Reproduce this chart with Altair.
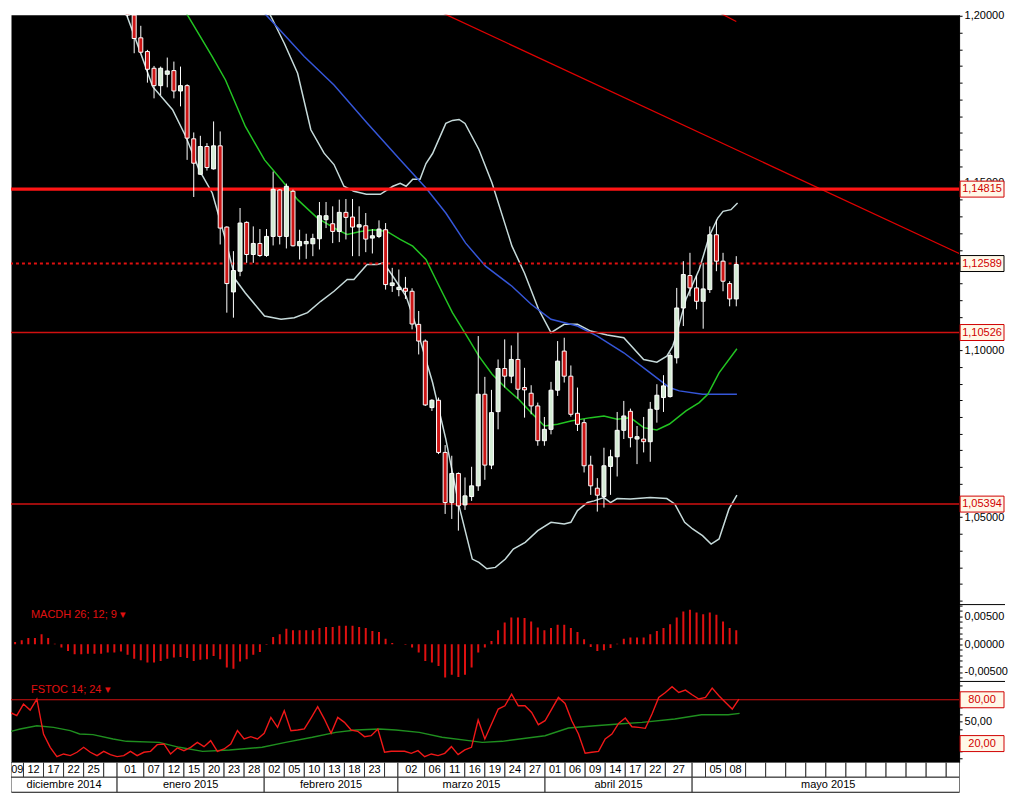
import altair as alt
import pandas as pd

# ---------------- candles (bar index, OHLC) ----------------
candle_bar = list(range(18, 111))
c_open = [1.2045, 1.2002, 1.1934, 1.1893, 1.1843, 1.1791, 1.1825, 1.1836, 1.1775, 1.1791,
          1.1632, 1.1526, 1.1609, 1.1542, 1.1611, 1.1368, 1.1174, 1.1236, 1.1382, 1.1286,
          1.1319, 1.1283, 1.1340, 1.1479, 1.1340, 1.1475, 1.1312, 1.1318, 1.1318, 1.1333,
          1.1390, 1.1378, 1.1355, 1.1412, 1.1398, 1.1368, 1.1372, 1.1335, 1.1340, 1.1360,
          1.1193, 1.1181, 1.1185, 1.1176, 1.1077, 1.1027, 1.0828, 1.0850, 1.0694, 1.0544,
          1.0631, 1.0537, 1.0562, 1.0594, 1.0868, 1.0656, 1.0816, 1.0945, 1.0922, 1.0972,
          1.0888, 1.0871, 1.0833, 1.0729, 1.0763, 1.0880, 1.0997, 1.0922, 1.0811, 1.0783,
          1.0656, 1.0587, 1.0562, 1.0652, 1.0681, 1.0760, 1.0817, 1.0734, 1.0734, 1.0726,
          1.0823, 1.0858, 1.0861, 1.0977, 1.1126, 1.1223, 1.1186, 1.1146, 1.1181, 1.1345,
          1.1266, 1.1199, 1.1153]
c_high = [1.2060, 1.2012, 1.1970, 1.1898, 1.1850, 1.1848, 1.1875, 1.1863, 1.1848, 1.1795,
          1.1651, 1.1641, 1.1619, 1.1684, 1.1654, 1.1370, 1.1296, 1.1425, 1.1385, 1.1370,
          1.1362, 1.1362, 1.1534, 1.1481, 1.1498, 1.1480, 1.1360, 1.1348, 1.1348, 1.1443,
          1.1443, 1.1430, 1.1450, 1.1452, 1.1452, 1.1430, 1.1410, 1.1362, 1.1388, 1.1380,
          1.1246, 1.1241, 1.1219, 1.1185, 1.1117, 1.1032, 1.0853, 1.0858, 1.0716, 1.0684,
          1.0634, 1.0619, 1.0651, 1.1042, 1.0920, 1.0881, 1.0972, 1.1032, 1.1014, 1.1052,
          1.0947, 1.0895, 1.0843, 1.0800, 1.0905, 1.1027, 1.1037, 1.0954, 1.0888, 1.0793,
          1.0684, 1.0617, 1.0708, 1.0702, 1.0815, 1.0848, 1.0825, 1.0773, 1.0800, 1.0845,
          1.0898, 1.0925, 1.0992, 1.1186, 1.1266, 1.1291, 1.1223, 1.1261, 1.1370, 1.1390,
          1.1291, 1.1206, 1.1281]
c_low = [1.1995, 1.1888, 1.1888, 1.1800, 1.1753, 1.1763, 1.1786, 1.1753, 1.1729, 1.1569,
         1.1458, 1.1525, 1.1537, 1.1540, 1.1316, 1.1112, 1.1097, 1.1221, 1.1261, 1.1261,
         1.1279, 1.1279, 1.1313, 1.1316, 1.1304, 1.1310, 1.1271, 1.1273, 1.1281, 1.1301,
         1.1365, 1.1320, 1.1323, 1.1331, 1.1281, 1.1281, 1.1293, 1.1289, 1.1335, 1.1181,
         1.1174, 1.1161, 1.1153, 1.1062, 1.0987, 1.0833, 1.0818, 1.0689, 1.0510, 1.0495,
         1.0460, 1.0522, 1.0549, 1.0579, 1.0612, 1.0644, 1.0763, 1.0888, 1.0901, 1.0855,
         1.0798, 1.0808, 1.0714, 1.0714, 1.0748, 1.0863, 1.0903, 1.0801, 1.0758, 1.0634,
         1.0567, 1.0517, 1.0529, 1.0567, 1.0622, 1.0734, 1.0709, 1.0659, 1.0694, 1.0666,
         1.0783, 1.0815, 1.0858, 1.0960, 1.1072, 1.1161, 1.1122, 1.1064, 1.1171, 1.1236,
         1.1176, 1.1131, 1.1131]
c_close = [1.2002, 1.1932, 1.1891, 1.1840, 1.1791, 1.1843, 1.1835, 1.1775, 1.1791, 1.1634,
           1.1559, 1.1609, 1.1546, 1.1611, 1.1365, 1.1199, 1.1238, 1.1380, 1.1286, 1.1319,
           1.1283, 1.1340, 1.1481, 1.1340, 1.1490, 1.1312, 1.1325, 1.1325, 1.1334, 1.1402,
           1.1402, 1.1355, 1.1412, 1.1397, 1.1368, 1.1375, 1.1332, 1.1342, 1.1362, 1.1196,
           1.1201, 1.1188, 1.1176, 1.1078, 1.1027, 1.0836, 1.0850, 1.0694, 1.0544, 1.0631,
           1.0534, 1.0564, 1.0594, 1.0868, 1.0656, 1.0813, 1.0945, 1.0922, 1.0972, 1.0883,
           1.0881, 1.0833, 1.0729, 1.0763, 1.0880, 1.0967, 1.0922, 1.0808, 1.0778, 1.0654,
           1.0594, 1.0566, 1.0654, 1.0681, 1.0760, 1.0803, 1.0738, 1.0741, 1.0726, 1.0823,
           1.0865, 1.0893, 1.0984, 1.1126, 1.1226, 1.1186, 1.1146, 1.1183, 1.1345, 1.1266,
           1.1206, 1.1153, 1.1256]

# ---------------- overlays on price ----------------
bb_up_bar = [37.7, 39.7, 41.7, 43.7, 45.7, 47.7, 49.2, 50.7, 52.2, 54.1, 56.2, 58.1, 59.2, 60.1, 61.1,
             62.2, 63.1, 64.1, 66.1, 67.1, 68.1, 69.0, 71.1, 73.1, 76.1, 78.0, 80.1, 82.0, 84.0, 86.0,
             88.0, 90.5, 93.0, 96.0, 98.0, 99.5, 100.4, 100.9, 102.4, 104.4, 105.9, 107.2, 108.0, 109.2, 110.2]
bb_up_val = [1.2072, 1.1997, 1.1917, 1.1828, 1.1659, 1.1589, 1.1555, 1.1490, 1.1475, 1.1466, 1.1466, 1.1490,
             1.1499, 1.1490, 1.1511, 1.1511, 1.1558, 1.1588, 1.1678, 1.1687, 1.1690, 1.1678, 1.1600, 1.1499,
             1.1311, 1.1230, 1.1123, 1.1052, 1.1077, 1.1077, 1.1057, 1.1045, 1.1037, 1.0972, 1.0964, 1.0982,
             1.1012, 1.1042, 1.1152, 1.1241, 1.1340, 1.1395, 1.1415, 1.1420, 1.1440]
bb_lo_bar = [16.8, 17.4, 19.8, 21.8, 24.8, 26.8, 28.8, 30.8, 32.8, 34.3, 35.8, 38.7, 41.2, 43.2, 45.2,
             47.2, 49.2, 51.2, 52.2, 54.2, 55.7, 56.7, 58.1, 60.1, 61.6, 64.1, 66.1, 68.1, 70.1, 71.1,
             72.3, 73.6, 75.1, 76.3, 78.1, 80.0, 82.0, 84.0, 85.0, 86.0, 87.5, 88.5, 90.0, 91.0, 92.0,
             94.0, 97.0, 99.5, 100.7, 102.2, 103.4, 104.9, 106.2, 107.4, 108.9, 110.1]
bb_lo_val = [1.2057, 1.2027, 1.1898, 1.1788, 1.1719, 1.1639, 1.1540, 1.1470, 1.1331, 1.1211, 1.1171, 1.1102,
             1.1092, 1.1097, 1.1112, 1.1146, 1.1176, 1.1211, 1.1211, 1.1256, 1.1256, 1.1261, 1.1221, 1.1161,
             1.1072, 1.0903, 1.0734, 1.0534, 1.0375, 1.0365, 1.0346, 1.0350, 1.0375, 1.0405, 1.0425, 1.0460,
             1.0485, 1.0480, 1.0485, 1.0520, 1.0544, 1.0549, 1.0559, 1.0544, 1.0556, 1.0555, 1.0559, 1.0556,
             1.0540, 1.0485, 1.0465, 1.0445, 1.0420, 1.0435, 1.0525, 1.0566]
ma_green_bar = [25.3, 26.3, 30.8, 32.8, 35.8, 38.7, 41.2, 43.7, 46.7, 49.7, 51.2, 53.2, 55.2, 57.2, 59.2,
                61.1, 63.1, 65.1, 67.1, 69.1, 71.1, 73.1, 75.1, 77.1, 79.0, 81.0, 83.0, 85.0, 88.0, 90.0,
                92.0, 94.0, 96.0, 98.0, 99.9, 102.4, 104.4, 105.7, 107.4, 110.1]
ma_green_val = [1.2087, 1.2027, 1.1878, 1.1808, 1.1669, 1.1569, 1.1510, 1.1450, 1.1395, 1.1360, 1.1346,
                1.1355, 1.1360, 1.1355, 1.1331, 1.1311, 1.1271, 1.1191, 1.1112, 1.1048, 1.0982, 1.0928,
                1.0888, 1.0853, 1.0813, 1.0773, 1.0778, 1.0788, 1.0798, 1.0803, 1.0793, 1.0798, 1.0768,
                1.0761, 1.0779, 1.0818, 1.0843, 1.0868, 1.0932, 1.1004]
ma_blue_bar = [35.8, 37.8, 44.7, 49.2, 54.2, 59.2, 63.1, 66.1, 69.1, 72.1, 76.1, 79.0, 82.0, 86.0, 89.0,
               93.0, 97.0, 99.9, 101.4, 104.9, 110.1]
ma_blue_val = [1.2072, 1.2027, 1.1878, 1.1793, 1.1679, 1.1569, 1.1485, 1.1410, 1.1320, 1.1251, 1.1191,
               1.1137, 1.1092, 1.1072, 1.1042, 1.0992, 1.0932, 1.0888, 1.0878, 1.0868, 1.0868]

level_thick = [1.14815]
level_dotted = [1.12589]
level_thin = [1.10526, 1.05394]

trend_a_bar = [55.0, 143.7]
trend_a_val = [1.2106, 1.1289]
trend_b_bar = [100.0, 110.0]
trend_b_val = [1.2085, 1.1983]

# ---------------- MACD histogram ----------------
macd_bar = list(range(0, 111))
macd_val = [-0.0003, 0.0004, 0.0007, 0.0011, 0.0011, 0.0018, 0.0011, 0.0001, -0.0006, -0.0012,
            -0.0018, -0.0018, -0.0017, -0.0017, -0.0017, -0.0015, -0.0015, -0.0013, -0.0019, -0.0026,
            -0.0029, -0.0033, -0.0033, -0.0030, -0.0026, -0.0024, -0.0023, -0.0025, -0.0030, -0.0028,
            -0.0027, -0.0021, -0.0027, -0.0042, -0.0044, -0.0031, -0.0027, -0.0019, -0.0014, -0.0001,
            0.0013, 0.0018, 0.0028, 0.0025, 0.0025, 0.0025, 0.0025, 0.0029, 0.0031, 0.0031,
            0.0033, 0.0033, 0.0033, 0.0031, 0.0029, 0.0024, 0.0022, 0.0010, 0.0002, 0.0000,
            -0.0001, -0.0006, -0.0015, -0.0030, -0.0033, -0.0039, -0.0060, -0.0055, -0.0059, -0.0055,
            -0.0042, -0.0015, -0.0006, 0.0006, 0.0025, 0.0039, 0.0048, 0.0048, 0.0047, 0.0041,
            0.0030, 0.0025, 0.0029, 0.0035, 0.0035, 0.0029, 0.0022, 0.0009, -0.0005, -0.0012,
            -0.0011, -0.0007, 0.0001, 0.0010, 0.0012, 0.0012, 0.0012, 0.0018, 0.0024, 0.0029,
            0.0036, 0.0048, 0.0059, 0.0062, 0.0057, 0.0054, 0.0057, 0.0053, 0.0041, 0.0029,
            0.0025]

# ---------------- Stochastic ----------------
stoch_k = [40.0, 62.7, 58.2, 74.1, 65.9, 80.9, 33.1, 14.9, 2.1, 5.8,
           3.5, 8.1, 14.9, 8.1, 3.5, 9.4, 4.9, 2.1, 3.5, 9.4,
           3.5, 8.1, 9.4, 18.5, 19.5, 5.8, 14.0, 10.3, 14.9, 21.7,
           15.8, 24.0, 9.4, 12.6, 19.5, 37.7, 26.3, 29.5, 26.3, 34.0,
           55.9, 42.2, 65.0, 37.7, 38.6, 40.0, 55.0, 70.5, 53.6, 34.0,
           55.9, 49.1, 38.6, 36.8, 29.5, 30.8, 40.0, 8.1, 9.4, 9.4,
           9.4, 6.7, 10.3, 2.1, 5.8, 3.5, 6.7, 15.8, 4.9, 11.3,
           14.9, 52.3, 26.3, 46.8, 67.3, 71.8, 87.7, 71.8, 71.8, 62.7,
           45.9, 51.3, 67.3, 83.2, 75.0, 51.3, 33.1, 6.7, 8.1, 9.4,
           26.3, 33.1, 47.7, 55.0, 43.1, 42.2, 40.9, 60.5, 83.2, 90.0,
           97.8, 90.0, 93.3, 86.9, 81.0, 83.2, 96.0, 85.5, 76.4, 67.3,
           81.0]
stoch_d_bar = [0, 2.5, 5, 7.5, 10, 11.4, 13.4, 16.4, 18.4, 23.3, 26.3, 29.8, 33.8, 38.7, 42.2, 46.2, 49.7,
               52.7, 56.2, 58.7, 62.2, 65.6, 69.6, 71.6, 74.6, 81, 84.5, 88.5, 92, 95.5, 100.4, 104.4,
               108.4, 110.1]
stoch_d_val = [34.0, 40.0, 44.5, 42.2, 37.7, 33.1, 32.2, 26.3, 23.1, 21.7, 14.9, 9.4, 11.3, 14.9, 21.7,
               28.6, 35.4, 38.6, 40.0, 38.6, 35.4, 28.6, 24.0, 21.7, 23.1, 30.8, 41.3, 44.5, 46.8, 49.1,
               53.6, 59.4, 59.4, 61.3]
stoch_levels = [80, 20]

# ---------------- date axis cells ----------------
day_cut = [1.134, 3, 6, 9, 12, 15, 17, 21, 24, 27, 30, 33, 36, 39, 42, 45, 48, 51, 54, 57, 59,
           63, 66, 69, 72, 75, 78, 81, 84, 87, 90, 93, 96, 99, 103, 105, 108, 111, 114, 117, 120,
           123, 126, 129, 132, 135, 138, 141, 143.7]
day_labels = ["09", "12", "17", "22", "25", "",
              "01", "07", "12", "15", "20", "23", "28",
              "02", "05", "10", "13", "18", "23", "",
              "02", "06", "11", "16", "19", "24", "27",
              "01", "06", "09", "14", "17", "22", "27",
              "", "05", "08"] + [""] * 11
month_cut = [1.134, 17, 39, 59, 81, 103, 143.7]
month_labels = ["diciembre 2014", "enero 2015", "febrero 2015", "marzo 2015", "abril 2015", "mayo 2015"]

# ---------------- layout ----------------
W = 950
X_DOM = [1.134, 142.925]
FONT = "Liberation Sans"
RED = "#E01010"

xs = alt.Scale(domain=X_DOM, nice=False, zero=False)


def xq(field):
    return alt.X(field, type="quantitative", scale=xs, axis=None)


def yaxis(values, expr, flush=False):
    return alt.Axis(orient="right", values=values, labelExpr=expr, title=None, grid=False,
                    tickSize=3, tickColor="#000", domainColor="#000", labelColor="#000",
                    labelFont=FONT, labelFontSize=11, labelPadding=2, labelFlush=flush,
                    labelOverlap=False)


fmt5 = "replace(replace(format(datum.value,'.5f'),'.',','),'\u2212','-')"

# ---- main price panel ----
ys_main = alt.Scale(domain=[1.02388, 1.2003], nice=False, zero=False)
ax_main = yaxis([round(1.025 + 0.005 * k, 3) for k in range(36)],
                "abs(datum.value*20-round(datum.value*20))<0.001 ? " + fmt5 + " : ''",
                flush=True)


def ym(field):
    return alt.Y(field, type="quantitative", scale=ys_main, axis=ax_main)


cd = pd.DataFrame({"bar": candle_bar, "open": c_open, "high": c_high, "low": c_low, "close": c_close})
cd["dir"] = ["up" if c >= o else "down" for o, c in zip(c_open, c_close)]
cd["bot"] = cd[["open", "close"]].min(axis=1)
cd["top"] = cd[["open", "close"]].max(axis=1)


def line_df(b, v):
    return pd.DataFrame({"bar": b, "v": v})


def price_line(b, v, color, width=1.4):
    return alt.Chart(line_df(b, v)).mark_line(color=color, strokeWidth=width, clip=True).encode(
        x=xq("bar"), y=ym("v"))


lv_thick = alt.Chart(pd.DataFrame({"v": level_thick})).mark_rule(color="#FF1515", strokeWidth=3.5).encode(y=ym("v"))
lv_dot = alt.Chart(pd.DataFrame({"v": level_dotted})).mark_rule(color=RED, strokeWidth=2, strokeDash=[3, 3]).encode(y=ym("v"))
lv_thin = alt.Chart(pd.DataFrame({"v": level_thin})).mark_rule(color="#D01010", strokeWidth=1.5).encode(y=ym("v"))

trend_a = price_line(trend_a_bar, trend_a_val, "#E00000", 1.3)
trend_b = price_line(trend_b_bar, trend_b_val, "#E00000", 1.3)
bb_up = price_line(bb_up_bar, bb_up_val, "#C6DADA", 1.5)
bb_lo = price_line(bb_lo_bar, bb_lo_val, "#C6DADA", 1.5)
ma_g = price_line(ma_green_bar, ma_green_val, "#22C422", 1.5)
ma_b = price_line(ma_blue_bar, ma_blue_val, "#3556D8", 1.5)

wicks = alt.Chart(cd).mark_rule(color="white", strokeWidth=1, clip=True).encode(
    x=xq("bar"), y=ym("low"), y2="high")
bodies = alt.Chart(cd).mark_bar(size=4, stroke="white", strokeWidth=1, clip=True).encode(
    x=xq("bar"), y=ym("bot"), y2="top",
    color=alt.Color("dir:N", scale=alt.Scale(domain=["up", "down"], range=["#D5ECD5", "#CC1515"]), legend=None))

lab_red = pd.DataFrame({"v": level_thick + level_thin})
lab_blk = pd.DataFrame({"v": level_dotted})
lab_expr = "replace(format(datum.v,'.5f'),'.',',')"


def label_box(df, border, yfun):
    return alt.Chart(df).mark_rect(fill="#FFF8E8", stroke=border, strokeWidth=1, yOffset=-8, y2Offset=8).encode(
        x=alt.value(W + 1), x2=alt.value(W + 45), y=yfun("v"), y2="v")


def label_text(df, yfun, expr):
    return alt.Chart(df).transform_calculate(lab=expr).mark_text(
        color="#D00000", font=FONT, fontSize=11, align="center", baseline="middle").encode(
        x=alt.value(W + 23), y=yfun("v"), text="lab:N")


main = alt.layer(
    bb_up, bb_lo, ma_b, ma_g, trend_a, trend_b, lv_thin, lv_dot, lv_thick,
    wicks, bodies,
    label_box(lab_red, "#D00000", ym), label_box(lab_blk, "#000000", ym),
    label_text(lab_red, ym, lab_expr), label_text(lab_blk, ym, lab_expr),
).properties(width=W, height=591)

one = pd.DataFrame({"k": [0]})

# ---- MACD panel ----
ys_macd = alt.Scale(domain=[-0.0067, 0.00713], nice=False, zero=False)
ax_macd = yaxis([round(-0.006 + 0.001 * k, 3) for k in range(14)],
                "abs(datum.value*200-round(datum.value*200))<0.01 ? " + fmt5 + " : ''")
md = pd.DataFrame({"bar": macd_bar, "v": macd_val})
macd_bars = alt.Chart(md).mark_bar(size=2, color=RED, clip=True).encode(
    x=xq("bar"), y=alt.Y("v:Q", scale=ys_macd, axis=ax_macd), y2=alt.datum(0))
macd_title = alt.Chart(one).mark_text(align="left", baseline="middle", color=RED, font=FONT, fontSize=11).encode(
    x=alt.value(20), y=alt.value(10), text=alt.value("MACDH 26; 12; 9 \u25be"))
macd_sep = alt.Chart(one).mark_rule(color="#000", strokeWidth=1).encode(
    x=alt.value(W), x2=alt.value(W + 46), y=alt.value(0))
macd = alt.layer(macd_bars, macd_title, macd_sep).properties(width=W, height=77)

# ---- Stochastic panel ----
ys_st = alt.Scale(domain=[-5.6, 105.1], nice=False, zero=False)
ax_st = yaxis(list(range(0, 101, 10)), "datum.value == 50 ? '50,00' : ''")


def ys(field):
    return alt.Y(field, type="quantitative", scale=ys_st, axis=ax_st)


kd = pd.DataFrame({"bar": macd_bar, "v": stoch_k})
dd = pd.DataFrame({"bar": stoch_d_bar, "v": stoch_d_val})
st_lv = pd.DataFrame({"v": stoch_levels})
st_80 = alt.Chart(pd.DataFrame({"v": stoch_levels[:1]})).mark_rule(color="#D01010", strokeWidth=1.2).encode(y=ys("v"))
st_d = alt.Chart(dd).mark_line(color="#1F8F1F", strokeWidth=1.4, clip=True).encode(x=xq("bar"), y=ys("v"))
st_k = alt.Chart(kd).mark_line(color="#F01818", strokeWidth=1.4, clip=True).encode(x=xq("bar"), y=ys("v"))
st_title = alt.Chart(one).mark_text(align="left", baseline="middle", color=RED, font=FONT, fontSize=11).encode(
    x=alt.value(20), y=alt.value(9), text=alt.value("FSTOC 14; 24 \u25be"))
st_sep = alt.Chart(one).mark_rule(color="#000", strokeWidth=1).encode(
    x=alt.value(W), x2=alt.value(W + 46), y=alt.value(0))
st_expr = "replace(format(datum.v,'.2f'),'.',',')"
stoch = alt.layer(
    st_80, st_d, st_k, st_title, st_sep,
    label_box(st_lv, "#D00000", ys), label_text(st_lv, ys, st_expr),
).properties(width=W, height=81)

# ---- date axis panel ----
day_df = pd.DataFrame({"start": day_cut[:-1], "end": day_cut[1:], "label": day_labels})
day_df["row"] = "d"
mon_df = pd.DataFrame({"start": month_cut[:-1], "end": month_cut[1:], "label": month_labels})
mon_df["row"] = "m"
cells = pd.concat([day_df, mon_df], ignore_index=True)
cells["mid"] = (cells["start"] + cells["end"]) / 2
yrow = alt.Y("row:N", scale=alt.Scale(domain=["d", "m"], paddingInner=0, paddingOuter=0), axis=None)
cell_rects = alt.Chart(cells).mark_rect(fill="white", stroke="#333", strokeWidth=1, clip=True).encode(
    x=xq("start"), x2="end", y=yrow)
cell_text = alt.Chart(cells).mark_text(color="#000", font=FONT, fontSize=11, baseline="middle").encode(
    x=xq("mid"), y=yrow, text="label:N")
dates = alt.layer(cell_rects, cell_text).properties(width=W, height=30)

chart = alt.vconcat(main, macd, stoch, dates, spacing=0, bounds="flush").properties(
    padding=0, background="white"
).configure_view(fill="#000000", stroke="transparent")

chart.save("out.html", embed_options={"renderer": "svg", "actions": False})
